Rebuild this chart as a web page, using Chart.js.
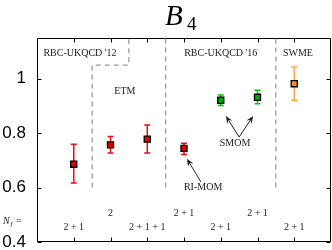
<!DOCTYPE html>
<html>
<head>
<meta charset="utf-8">
<script src="https://cdn.jsdelivr.net/npm/chart.js@4"></script>
<style>
  html, body { margin: 0; padding: 0; background: #fff; overflow: hidden; }
</style>
</head>
<body>
<canvas id="b4Chart" width="332" height="250" style="width:332px;height:250px"></canvas>
<script>
// data
const xPos = [1, 2, 3, 4, 5, 6, 7];
const b4 = [0.686, 0.757, 0.778, 0.744, 0.921, 0.932, 0.982];
const errLow = [0.617, 0.727, 0.727, 0.722, 0.902, 0.908, 0.921];
const errHigh = [0.759, 0.788, 0.830, 0.763, 0.940, 0.958, 1.043];
const fillCol = ["#e00000", "#e00000", "#e00000", "#e00000", "#00a800", "#00a800", "#ff8c1a"];
const barCol = ["#e81010", "#e81010", "#e81010", "#e81010", "#10c010", "#10c010", "#ffa640"];
const yTicks = [0.4, 0.6, 0.8, 1];

// dashed separators between collaborations
const sepLines = [
  [[1.5, 0.6], [1.5, 1.05], [2.5, 1.05], [2.5, 1.15]],
  [[3.5, 0.6], [3.5, 1.15]],
  [[6.5, 0.6], [6.5, 1.15]]
];
const groupLabels = [
  { text: "RBC-UKQCD '12", x: 1.17, y: 1.093 },
  { text: "ETM", x: 2.39, y: 0.953 },
  { text: "RBC-UKQCD '16", x: 5.0, y: 1.093 },
  { text: "SWME", x: 7.1, y: 1.093 },
  { text: "SMOM", x: 5.39, y: 0.763 },
  { text: "RI-MOM", x: 4.52, y: 0.600 }
];
const nfLabels = [
  { text: "2", x: 2, y: 0.506 },
  { text: "2 + 1", x: 4, y: 0.506 },
  { text: "2 + 1", x: 6, y: 0.506 },
  { text: "2 + 1", x: 1, y: 0.455 },
  { text: "2 + 1 + 1", x: 3, y: 0.455 },
  { text: "2 + 1", x: 5, y: 0.455 },
  { text: "2 + 1", x: 7, y: 0.455 }
];
const arrows = [
  { from: [5.50, 0.786], to: [5.14, 0.863] },
  { from: [5.50, 0.786], to: [5.88, 0.863] },
  { from: [4.46, 0.621], to: [4.08, 0.706] }
];

const points = xPos.map((x, i) => ({ x: x, y: b4[i] }));

function arrow(ctx, x1, y1, x2, y2) {
  const a = Math.atan2(y2 - y1, x2 - x1);
  const len = 8, w = 0.4;
  ctx.beginPath();
  ctx.moveTo(x1, y1);
  ctx.lineTo(x2 - Math.cos(a) * 5, y2 - Math.sin(a) * 5);
  ctx.stroke();
  ctx.beginPath();
  ctx.moveTo(x2, y2);
  ctx.lineTo(x2 - len * Math.cos(a - w), y2 - len * Math.sin(a - w));
  ctx.lineTo(x2 - len * 0.6 * Math.cos(a), y2 - len * 0.6 * Math.sin(a));
  ctx.lineTo(x2 - len * Math.cos(a + w), y2 - len * Math.sin(a + w));
  ctx.closePath();
  ctx.fill();
}

const extras = {
  id: "extras",
  beforeDatasetsDraw(chart) {
    const ctx = chart.ctx, xs = chart.scales.x, ys = chart.scales.y;
    const area = chart.chartArea;
    const L = Math.round(area.left) + 0.5, R = Math.round(area.right) - 0.5;
    const T = Math.round(area.top) + 0.5, B = Math.round(area.bottom) - 0.5;
    ctx.save();
    // frame and inward ticks
    ctx.strokeStyle = "#000";
    ctx.lineWidth = 1;
    ctx.beginPath();
    ctx.moveTo(L, T); ctx.lineTo(R, T); ctx.lineTo(R, B); ctx.lineTo(L, B); ctx.closePath();
    xPos.forEach(v => {
      const px = Math.round(xs.getPixelForValue(v)) + 0.5;
      ctx.moveTo(px, B); ctx.lineTo(px, B - 4);
      ctx.moveTo(px, T); ctx.lineTo(px, T + 4);
    });
    yTicks.forEach(v => {
      const py = Math.round(ys.getPixelForValue(v)) + 0.5;
      ctx.moveTo(L, py); ctx.lineTo(L + 4, py);
      ctx.moveTo(R, py); ctx.lineTo(R - 4, py);
    });
    ctx.stroke();
    // dashed separators
    ctx.strokeStyle = "#9a9a9a";
    ctx.lineWidth = 1.3;
    ctx.setLineDash([5, 4]);
    sepLines.forEach(line => {
      ctx.beginPath();
      line.forEach((p, j) => {
        const px = xs.getPixelForValue(p[0]), py = ys.getPixelForValue(p[1]);
        if (j === 0) ctx.moveTo(px, py); else ctx.lineTo(px, py);
      });
      ctx.stroke();
    });
    ctx.setLineDash([]);
    // text labels
    ctx.fillStyle = "#222";
    ctx.textAlign = "center";
    ctx.textBaseline = "middle";
    ctx.font = "10px 'Liberation Serif', serif";
    groupLabels.concat(nfLabels).forEach(l => {
      ctx.fillText(l.text, xs.getPixelForValue(l.x), ys.getPixelForValue(l.y));
    });
    // N_f =
    const ny = ys.getPixelForValue(0.476);
    ctx.textAlign = "left";
    ctx.font = "italic 10px 'Liberation Serif', serif";
    ctx.fillText("N", 3, ny);
    ctx.font = "italic 7px 'Liberation Serif', serif";
    ctx.fillText("f", 10.5, ny + 3);
    ctx.font = "10px 'Liberation Serif', serif";
    ctx.fillText("=", 16, ny);
    // arrows
    ctx.strokeStyle = "#222";
    ctx.fillStyle = "#222";
    ctx.lineWidth = 1;
    arrows.forEach(a => {
      arrow(ctx, xs.getPixelForValue(a.from[0]), ys.getPixelForValue(a.from[1]),
        xs.getPixelForValue(a.to[0]), ys.getPixelForValue(a.to[1]));
    });
    // error bars
    ctx.lineWidth = 1.5;
    xPos.forEach((x, i) => {
      const px = xs.getPixelForValue(x);
      const top = ys.getPixelForValue(errHigh[i]), bot = ys.getPixelForValue(errLow[i]);
      ctx.strokeStyle = barCol[i];
      ctx.beginPath();
      ctx.moveTo(px, top); ctx.lineTo(px, bot);
      ctx.moveTo(px - 3, top); ctx.lineTo(px + 3, top);
      ctx.moveTo(px - 3, bot); ctx.lineTo(px + 3, bot);
      ctx.stroke();
    });
    // title
    ctx.fillStyle = "#000";
    ctx.textAlign = "left";
    ctx.textBaseline = "alphabetic";
    ctx.font = "italic 29px 'Liberation Serif', serif";
    ctx.fillText("B", 165, 25);
    ctx.font = "19px 'Liberation Serif', serif";
    ctx.fillText("4", 187, 30);
    ctx.restore();
  }
};

new Chart(document.getElementById("b4Chart"), {
  type: "scatter",
  data: {
    datasets: [{
      data: points,
      pointStyle: "rect",
      pointRadius: 4.3,
      pointBackgroundColor: fillCol,
      pointBorderColor: "#000",
      pointBorderWidth: 1.3,
      showLine: false
    }]
  },
  options: {
    responsive: false,
    animation: false,
    events: [],
    layout: { autoPadding: false, padding: { top: 38, right: 1, bottom: 8, left: 0 } },
    plugins: { legend: { display: false }, tooltip: { enabled: false } },
    scales: {
      x: {
        type: "linear", min: 0, max: 8,
        display: false
      },
      y: {
        type: "linear", min: 0.4, max: 1.15,
        grid: { display: false },
        border: { display: false },
        afterBuildTicks: axis => { axis.ticks = yTicks.map(v => ({ value: v })); },
        afterFit: axis => {
          axis.width = 37;
          axis.paddingTop = 0; axis.paddingBottom = 0;
          axis.paddingLeft = 0; axis.paddingRight = 0;
        },
        ticks: {
          color: "#000",
          padding: 3,
          font: { family: "'Liberation Sans', Arial, sans-serif", size: 17 },
          callback: v => String(v)
        }
      }
    }
  },
  plugins: [extras]
});
</script>
</body>
</html>
